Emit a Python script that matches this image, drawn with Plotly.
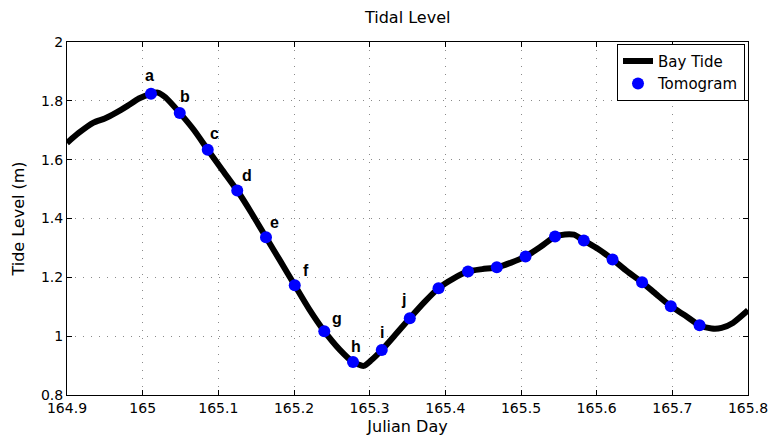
import plotly.graph_objects as go

# Bay tide curve (Julian day, tide level in m)
tide_day = [164.900, 164.915, 164.935, 164.950, 164.965, 164.980, 164.995, 165.011, 165.020, 165.030,
            165.049, 165.068, 165.086, 165.105, 165.125, 165.144, 165.163, 165.182, 165.201, 165.220,
            165.240, 165.260, 165.278, 165.292, 165.302, 165.316, 165.335, 165.353, 165.372, 165.391,
            165.410, 165.430, 165.449, 165.468, 165.487, 165.506, 165.525, 165.545, 165.558, 165.570,
            165.583, 165.602, 165.621, 165.640, 165.660, 165.679, 165.698, 165.717, 165.736, 165.752,
            165.765, 165.780, 165.800]
tide_level = [1.657, 1.690, 1.726, 1.740, 1.760, 1.783, 1.808, 1.824, 1.828, 1.812,
              1.759, 1.700, 1.634, 1.566, 1.495, 1.418, 1.336, 1.255, 1.173, 1.092,
              1.017, 0.955, 0.912, 0.899, 0.918, 0.953, 1.008, 1.061, 1.115, 1.163,
              1.195, 1.220, 1.228, 1.234, 1.250, 1.271, 1.302, 1.339, 1.346, 1.345,
              1.325, 1.296, 1.261, 1.221, 1.183, 1.142, 1.102, 1.070, 1.037, 1.026,
              1.028, 1.045, 1.088]

# Tomogram times
tomo_day = [165.011, 165.049, 165.086, 165.125, 165.163, 165.201, 165.240, 165.278, 165.316, 165.353,
            165.391, 165.430, 165.468, 165.506, 165.545, 165.583, 165.621, 165.660, 165.698, 165.736]
tomo_level = [1.824, 1.759, 1.634, 1.495, 1.336, 1.173, 1.017, 0.912, 0.953, 1.061,
              1.163, 1.220, 1.234, 1.271, 1.339, 1.325, 1.261, 1.183, 1.102, 1.037]
tomo_labels = ["a", "b", "c", "d", "e", "f", "g", "h", "i", "j"]

x_ticks = [164.9, 165.0, 165.1, 165.2, 165.3, 165.4, 165.5, 165.6, 165.7, 165.8]
x_tick_text = ["164.9", "165", "165.1", "165.2", "165.3", "165.4", "165.5", "165.6", "165.7", "165.8"]
y_ticks = [0.8, 1.0, 1.2, 1.4, 1.6, 1.8, 2.0]
y_tick_text = ["0.8", "1", "1.2", "1.4", "1.6", "1.8", "2"]

FONT = "DejaVu Sans, Verdana, sans-serif"
BOLD = "Liberation Sans, Arial, sans-serif"

fig = go.Figure()
fig.add_trace(go.Scatter(x=tide_day, y=tide_level, mode="lines", name="Bay Tide",
                         line=dict(color="black", width=6, shape="spline", smoothing=0.6)))
fig.add_trace(go.Scatter(x=tomo_day, y=tomo_level, mode="markers", name="Tomogram",
                         marker=dict(color="#0000ff", size=12, line=dict(width=0))))

label_shift = [(-1, 18), (5, 16), (7, 16), (10, 15), (8, 15), (11, 15), (13, 13), (3, 16), (0, 17), (-6, 19)]
for lab, xd, yl, (dx, dy) in zip(tomo_labels, tomo_day, tomo_level, label_shift):
    fig.add_annotation(x=xd, y=yl, text="<b>%s</b>" % lab, showarrow=False,
                       xshift=dx, yshift=dy, font=dict(family=BOLD, size=16, color="black"))

axis_common = dict(showline=True, linecolor="black", linewidth=1, mirror="ticks",
                   ticks="inside", ticklen=5, tickcolor="black", automargin=False,
                   showgrid=True, gridcolor="#8a8a8a", griddash="1px,7px", gridwidth=1,
                   zeroline=False, tickfont=dict(family=FONT, size=14, color="black"))

fig.update_xaxes(range=[164.9, 165.8], tickvals=x_ticks, ticktext=x_tick_text,
                 title=dict(text="Julian Day", font=dict(family=FONT, size=16, color="black"), standoff=6),
                 **axis_common)
fig.update_yaxes(range=[0.8, 2.0], tickvals=y_ticks, ticktext=y_tick_text,
                 title=dict(text="Tide Level (m)", font=dict(family=FONT, size=16, color="black"), standoff=12),
                 **axis_common)

fig.update_layout(
    width=770, height=440,
    margin=dict(l=67, r=22, t=42, b=45, autoexpand=False),
    paper_bgcolor="white", plot_bgcolor="white",
    title=dict(text="Tidal Level", x=0.5295, xanchor="center", y=0.96, yanchor="middle",
               font=dict(family=FONT, size=16, color="black")),
    legend=dict(x=0.9956, xanchor="right", y=0.995, yanchor="top",
                bordercolor="black", borderwidth=1, bgcolor="white",
                font=dict(family=FONT, size=15, color="black"),
                tracegroupgap=0, itemwidth=30),
    showlegend=True,
)

fig.write_html("out.html")
